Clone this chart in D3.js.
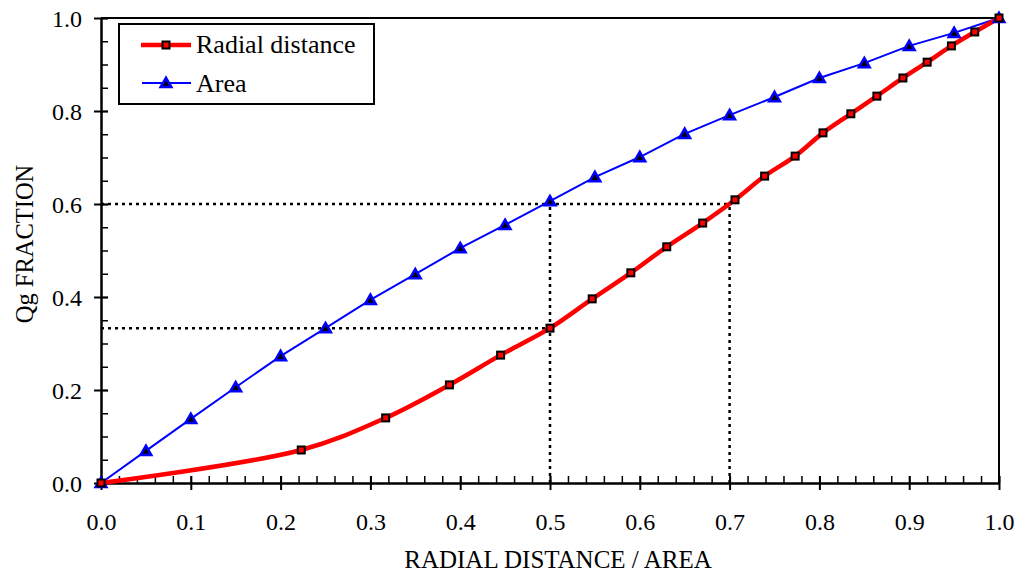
<!DOCTYPE html>
<html><head><meta charset="utf-8">
<script src="https://cdn.jsdelivr.net/npm/d3@7"></script>
<style>body{margin:0;background:#fff}svg{display:block}svg text{font-family:'Liberation Serif','DejaVu Serif',serif !important;fill:#000}</style>
</head><body><svg id="c" width="1021" height="575"></svg>
<script>
const areaX = [0,0.05,0.1,0.15,0.2,0.25,0.3,0.35,0.4,0.45,0.5,0.55,0.6,0.65,0.7,0.75,0.8,0.85,0.9,0.95,1.0];
const areaY = [0,0.069,0.138,0.206,0.273,0.333,0.394,0.449,0.505,0.555,0.606,0.658,0.701,0.751,0.791,0.830,0.871,0.903,0.940,0.968,1.0];
const radX = [0,0.223,0.317,0.388,0.445,0.5,0.547,0.590,0.630,0.670,0.706,0.739,0.773,0.804,0.835,0.864,0.893,0.920,0.947,0.973,1.0];
const radY = [0,0.071,0.140,0.211,0.275,0.333,0.396,0.452,0.508,0.559,0.609,0.660,0.703,0.753,0.794,0.832,0.871,0.905,0.940,0.970,1.0];
const xTicks = [0,0.1,0.2,0.3,0.4,0.5,0.6,0.7,0.8,0.9,1.0];
const yTicks = [0,0.2,0.4,0.6,0.8,1.0];
const guides = [[0,0.6,0.7,0.6],[0,0.333,0.5,0.333],[0.5,0,0.5,0.6],[0.7,0,0.7,0.6]];
const seriesNames = ["Radial distance","Area"];
const FONT = "'Liberation Serif','DejaVu Serif',serif";

const svg = d3.select("#c");
const x = d3.scaleLinear().domain([0,1]).range([101,999]);
const y = d3.scaleLinear().domain([0,1]).range([483,18]);

svg.append("g").selectAll("line").data(guides).join("line")
  .attr("x1",d=>x(d[0])).attr("y1",d=>y(d[1])).attr("x2",d=>x(d[2])).attr("y2",d=>y(d[3]))
  .attr("stroke","#000").attr("stroke-width",2.5).attr("stroke-dasharray","3,4");

svg.append("line").attr("x1",x(0)).attr("x2",x(1)).attr("y1",y(1)).attr("y2",y(1)).attr("stroke","#000").attr("stroke-width",2);
svg.append("line").attr("x1",x(1)).attr("x2",x(1)).attr("y1",y(0)).attr("y2",y(1)).attr("stroke","#000").attr("stroke-width",2);

const xa = svg.append("g").attr("transform",`translate(0,${y(0)})`);
xa.call(d3.axisBottom(x).tickValues(d3.range(0,1.0001,0.02)).tickSize(0).tickFormat(""));
xa.select(".domain").attr("stroke-width",2.5);
xa.selectAll(".tick line").attr("y1",-7).attr("y2",0).attr("stroke-width",1.5);
const xm = svg.append("g").attr("transform",`translate(0,${y(0)})`);
xm.call(d3.axisBottom(x).tickValues(xTicks).tickSize(7).tickPadding(23).tickFormat(d3.format(".1f")));
xm.select(".domain").remove();
xm.selectAll(".tick line").attr("y1",-7).attr("stroke-width",2);
xm.selectAll(".tick text").style("font-family",FONT).style("font-size","24px");

const ya = svg.append("g").attr("transform",`translate(${x(0)},0)`);
ya.call(d3.axisLeft(y).tickValues(d3.range(0,1.0001,0.05)).tickSize(0).tickFormat(""));
ya.select(".domain").attr("stroke-width",2.5);
ya.selectAll(".tick line").attr("x1",7).attr("x2",0).attr("stroke-width",1.5);
const ym = svg.append("g").attr("transform",`translate(${x(0)},0)`);
ym.call(d3.axisLeft(y).tickValues(yTicks).tickSize(7).tickPadding(12).tickFormat(d3.format(".1f")));
ym.select(".domain").remove();
ym.selectAll(".tick line").attr("x2",7).attr("x1",-7).attr("stroke-width",2);
ym.selectAll(".tick text").attr("dy","0.36em").style("font-family",FONT).style("font-size","24px");

svg.append("text").attr("x",558).attr("y",568).attr("text-anchor","middle").style("font-family",FONT).style("font-size","25px").text("RADIAL DISTANCE / AREA");
svg.append("text").attr("transform","translate(33,244) rotate(-90)").attr("text-anchor","middle").style("font-family",FONT).style("font-size","24.5px").text("Qg FRACTION");

const areaData = areaX.map((v,i)=>[v,areaY[i]]);
const radData = radX.map((v,i)=>[v,radY[i]]);
svg.append("path").datum(areaData).attr("fill","none").attr("stroke","#0000ff").attr("stroke-width",2)
  .attr("d",d3.line().x(d=>x(d[0])).y(d=>y(d[1])));
svg.append("path").datum(radData).attr("fill","none").attr("stroke","#ff0000").attr("stroke-width",4.5)
  .attr("d",d3.line().x(d=>x(d[0])).y(d=>y(d[1])).curve(d3.curveCatmullRom.alpha(0.5)));

const tri = d3.symbol().type(d3.symbolTriangle).size(50);
svg.append("g").selectAll("path").data(areaData).join("path")
  .attr("transform",d=>`translate(${x(d[0])},${y(d[1])+1})`).attr("d",tri)
  .attr("fill","#000").attr("stroke","#0000ff").attr("stroke-width",2.5);
svg.append("g").selectAll("rect").data(radData).join("rect")
  .attr("x",d=>x(d[0])-3.5).attr("y",d=>y(d[1])-3.5).attr("width",7).attr("height",7)
  .attr("fill","#ff0000").attr("stroke","#000").attr("stroke-width",2);

const lg = svg.append("g");
lg.append("rect").attr("x",119).attr("y",24).attr("width",255).attr("height",80).attr("fill","#fff").attr("stroke","#000").attr("stroke-width",2);
lg.append("line").attr("x1",141).attr("x2",191).attr("y1",45).attr("y2",45).attr("stroke","#ff0000").attr("stroke-width",4.5);
lg.append("rect").attr("x",162.5).attr("y",41.5).attr("width",7).attr("height",7).attr("fill","#ff0000").attr("stroke","#000").attr("stroke-width",2);
lg.append("line").attr("x1",142).attr("x2",191).attr("y1",83).attr("y2",83).attr("stroke","#0000ff").attr("stroke-width",2);
lg.append("path").attr("transform","translate(166,84)").attr("d",tri).attr("fill","#000").attr("stroke","#0000ff").attr("stroke-width",2.5);
lg.selectAll("text.l").data(seriesNames).join("text").attr("class","l")
  .attr("x",196).attr("y",(d,i)=>53+i*39).style("font-family",FONT).style("font-size","26px").text(d=>d);
</script></body></html>
